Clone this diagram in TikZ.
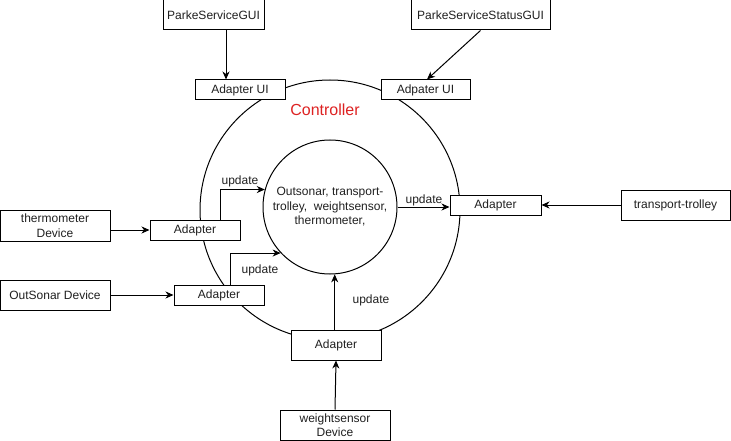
\documentclass[tikz,border=0pt]{standalone}
\usepackage{fontspec}
\setmainfont{Liberation Sans}
\usepackage{tikz}
\usetikzlibrary{shapes.geometric}
\usetikzlibrary{arrows.meta}

\begin{document}
\begin{tikzpicture}[x=1pt,y=-1pt,line cap=rect,
		font=\fontsize{12pt}{14.5pt}\selectfont,
		blk/.style={draw, line width=1pt, fill=white, inner sep=0, minimum height=20, text=custcol_20_20_20},
		ring/.style={draw, circle, line width=1pt, inner sep=0},
		lbl/.style={inner sep=0, text=custcol_20_20_20},
		arr/.style={line width=1pt, line cap=butt, -{Stealth[length=8pt,width=7pt,inset=2.5pt]}}]
				\definecolor{custcol_20_20_20}{RGB}{32, 32, 32}
				\definecolor{custcol_dd_22_22}{RGB}{221, 34, 34}
				\useasboundingbox (0,0) rectangle (731,441);
				% controller rings
				\node[ring, minimum size=260] (ctrl) at (330,210) {};
				\node[ring, minimum size=134, align=center, text=custcol_20_20_20] (core) at (330,207) {Outsonar, transport-\\trolley,\ \ weightsensor,\\thermometer,};
				\node[lbl, text=custcol_dd_22_22, font=\fontsize{16pt}{16pt}\selectfont] (ctrllbl) at (325,110) {Controller};
				% user interfaces
				\node[blk, minimum width=101, minimum height=30] (gui) at (213.5,15) {ParkeServiceGUI};
				\node[blk, minimum width=139, minimum height=30] (statusgui) at (480.5,15) {ParkeServiceStatusGUI};
				\node[blk, minimum width=90] (adpl) at (240,90) {Adapter UI};
				\node[blk, minimum width=89] (adpr) at (425.5,90) {Adpater UI};
				% devices
				\node[blk, minimum width=110, minimum height=31, align=center] (thermo) at (55,225.5) {thermometer\\Device};
				\node[blk, minimum width=110, minimum height=30] (sonar) at (55,295) {OutSonar Device};
				\node[blk, minimum width=110, minimum height=30, align=center] (weight) at (335,425) {weightsensor\\Device};
				\node[blk, minimum width=109, minimum height=30] (trolley) at (675.5,205) {transport-trolley};
				% adapters
				\node[blk, minimum width=90] (ta) at (195,230) {Adapter};
				\node[blk, minimum width=90] (sa) at (219,295) {Adapter};
				\node[blk, minimum width=90, minimum height=30] (ba) at (336,345) {Adapter};
				\node[blk, minimum width=91] (ra) at (495.5,205) {Adapter};
				% update labels
				\node[lbl] (u1) at (240,181) {update};
				\node[lbl] (u2) at (260,270) {update};
				\node[lbl] (u3) at (371,300) {update};
				\node[lbl] (u4) at (424,200) {update};
				% connections
				\draw[arr] ([xshift=12.5]gui.south) -- ([xshift=-14]adpl.north);
				\draw[arr] (statusgui.south) -- ([xshift=1.5]adpr.north);
				\draw[arr] (thermo.east |- ta.west) -- (ta.west);
				\draw[arr] (sonar.east) -- (sa.west);
				\draw[arr] (weight.north) -- (ba.south);
				\draw[arr] (trolley.west) -- (ra.east);
				\draw[arr] ([xshift=25]ta.north) |- (core.165);
				\draw[arr] ([xshift=11]sa.north) |- (core.223);
				\draw[arr] (ba.north -| core.274) -- (core.274);
				\draw[arr] (core.east) -- (core.east -| ra.west);
			\end{tikzpicture}
\end{document}
